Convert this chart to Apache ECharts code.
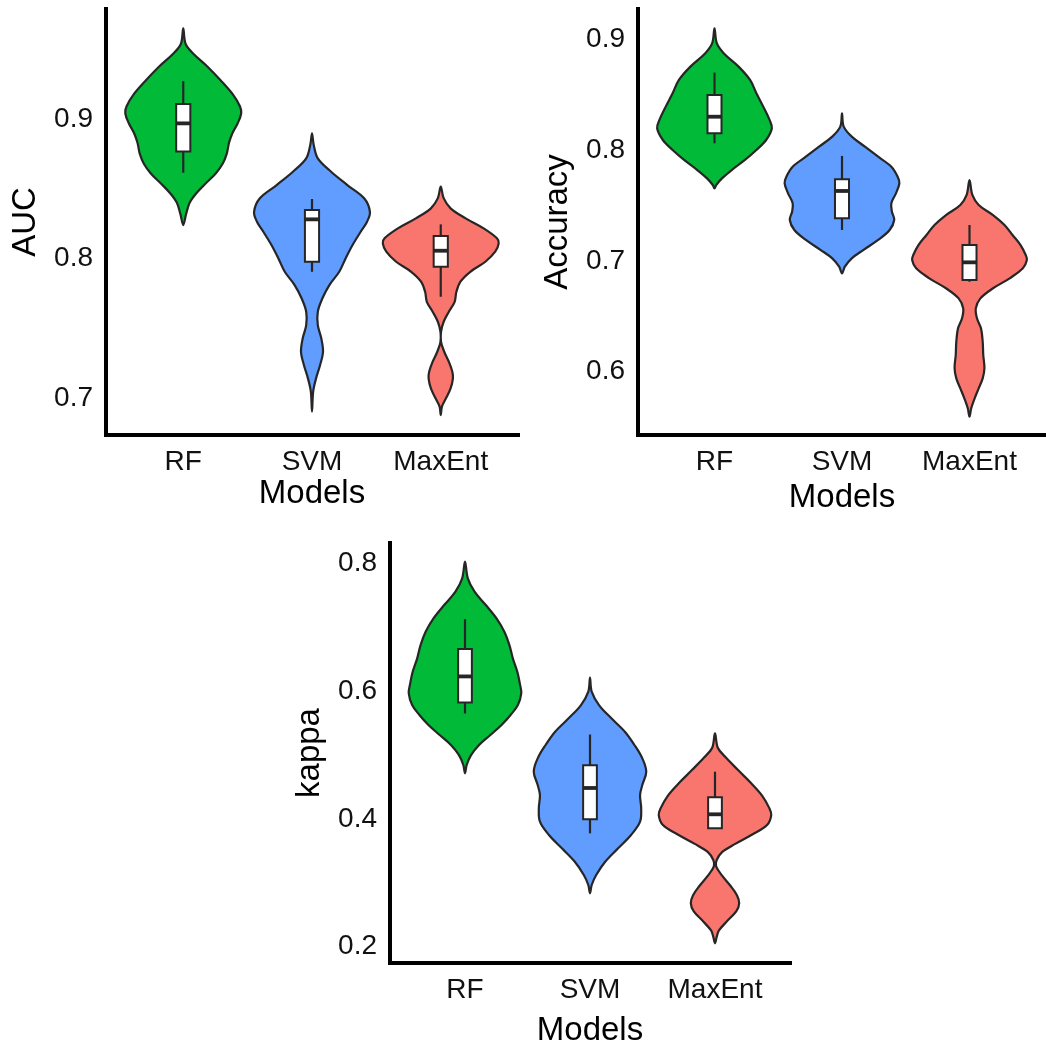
<!DOCTYPE html>
<html>
<head>
<meta charset="utf-8">
<script src="https://cdn.jsdelivr.net/npm/echarts@6/dist/echarts.min.js"></script>
<style>
html,body{margin:0;padding:0;background:#fff;}
#chart{width:1046px;height:1050px;}
</style>
</head>
<body>
<div id="chart"></div>
<script>
// ---------- DATA ----------
const categories = ['RF', 'SVM', 'MaxEnt'];
const aucTicks = [0.7, 0.8, 0.9];
const accTicks = [0.6, 0.7, 0.8, 0.9];
const kappaTicks = [0.2, 0.4, 0.6, 0.8];

// violin outlines: [value, relative density (max 1)]
const aucRF = [[0.965,0],[0.954,0.04],[0.947,0.17],[0.9375,0.42],[0.928,0.64],[0.918,0.85],[0.909,0.98],[0.904,1.0],[0.897,0.94],[0.890,0.85],[0.883,0.79],[0.875,0.75],[0.868,0.68],[0.861,0.56],[0.854,0.39],[0.847,0.23],[0.840,0.11],[0.832,0.05],[0.824,0]];
const aucSVM = [[0.8897,0],[0.8814,0.03],[0.8718,0.10],[0.8622,0.33],[0.8527,0.61],[0.8432,0.90],[0.8335,1.0],[0.8264,0.95],[0.8192,0.84],[0.8097,0.70],[0.8001,0.58],[0.7905,0.47],[0.781,0.30],[0.7715,0.18],[0.7619,0.10],[0.7523,0.10],[0.7428,0.16],[0.7332,0.19],[0.7237,0.14],[0.7141,0.07],[0.7046,0.02],[0.6903,0]];
const aucMaxEnt = [[0.8515,0],[0.8433,0.05],[0.836,0.17],[0.8288,0.43],[0.8216,0.74],[0.8145,0.97],[0.8109,1.0],[0.8049,0.94],[0.7977,0.77],[0.7905,0.51],[0.7834,0.34],[0.7762,0.27],[0.769,0.24],[0.7619,0.14],[0.7547,0.05],[0.7475,0.005],[0.7403,0.005],[0.7332,0.06],[0.726,0.14],[0.7189,0.20],[0.7141,0.21],[0.7069,0.17],[0.6998,0.09],[0.6938,0.02],[0.6878,0]];

const accRF = [[0.9099,0],[0.8964,0.04],[0.8874,0.16],[0.8753,0.42],[0.8633,0.62],[0.8513,0.73],[0.8392,0.85],[0.8272,0.96],[0.8197,1.0],[0.8091,0.90],[0.8001,0.73],[0.7911,0.53],[0.782,0.30],[0.7745,0.13],[0.7685,0.03],[0.7655,0]];
const accSVM = [[0.8332,0],[0.8211,0.03],[0.8121,0.17],[0.8031,0.40],[0.794,0.63],[0.785,0.86],[0.776,0.97],[0.77,1.0],[0.761,0.94],[0.752,0.86],[0.7444,0.87],[0.7369,0.91],[0.7279,0.83],[0.7189,0.63],[0.7098,0.37],[0.7023,0.17],[0.6948,0.05],[0.6888,0]];
const accMaxEnt = [[0.773,0],[0.7595,0.05],[0.7504,0.16],[0.7414,0.41],[0.7324,0.61],[0.7234,0.75],[0.7143,0.89],[0.7053,0.98],[0.7008,1.0],[0.6933,0.93],[0.6843,0.70],[0.6753,0.41],[0.6662,0.19],[0.6572,0.11],[0.6482,0.13],[0.6392,0.20],[0.6271,0.23],[0.6151,0.24],[0.6031,0.26],[0.594,0.23],[0.585,0.16],[0.576,0.09],[0.567,0.03],[0.5594,0]];

const kappaRF = [[0.8025,0],[0.7765,0.05],[0.7556,0.17],[0.7347,0.37],[0.7139,0.56],[0.693,0.70],[0.6721,0.79],[0.6513,0.85],[0.6304,0.93],[0.6095,0.98],[0.5966,1.0],[0.5783,0.94],[0.5626,0.81],[0.547,0.65],[0.5313,0.45],[0.5157,0.25],[0.5001,0.11],[0.4844,0.03],[0.4714,0]];
const kappaSVM = [[0.621,0],[0.5991,0.03],[0.5782,0.16],[0.5574,0.38],[0.5365,0.62],[0.5157,0.79],[0.4948,0.93],[0.4739,1.0],[0.4531,0.93],[0.4374,0.89],[0.4166,0.91],[0.3956,0.89],[0.3748,0.73],[0.354,0.50],[0.333,0.27],[0.3122,0.11],[0.2966,0.03],[0.2836,0]];
const kappaMaxEnt = [[0.534,0],[0.5114,0.05],[0.4964,0.19],[0.4764,0.41],[0.4562,0.64],[0.4362,0.84],[0.4161,0.97],[0.406,1.0],[0.3909,0.93],[0.3759,0.67],[0.3609,0.36],[0.3484,0.13],[0.3357,0.03],[0.3258,0.02],[0.3108,0.13],[0.2958,0.27],[0.2806,0.39],[0.2681,0.43],[0.2556,0.38],[0.2405,0.22],[0.2254,0.07],[0.2153,0.03],[0.2053,0]];

// box stats: [lower whisker, Q1, median, Q3, upper whisker]
const aucBox = [[0.8615,0.8767,0.8969,0.9108,0.9272],[0.7905,0.7977,0.8281,0.8348,0.8427],[0.7726,0.7941,0.8056,0.8161,0.8245]];
const accBox = [[0.8061,0.8152,0.8301,0.8497,0.8699],[0.7279,0.7384,0.7631,0.7736,0.7947],[0.6812,0.6828,0.6987,0.7143,0.7324]];
const kappaBox = [[0.565,0.582,0.623,0.666,0.7126],[0.3774,0.3996,0.4484,0.4838,0.5321],[0.3853,0.3853,0.4072,0.4338,0.4739]];

// ---------- STYLE / LAYOUT ----------
const fills = ['#00BA38', '#619CFF', '#F8766D'];
const outline = '#262626';
const FONT = '"Liberation Sans", Arial, sans-serif';
const panels = [
  {grid:{left:106, top:9, width:412, height:426}, ymin:0.6735, ymax:0.9789, ticks:aucTicks, name:'AUC', xGap:42, prof:[aucRF,aucSVM,aucMaxEnt], box:aucBox},
  {grid:{left:638, top:9, width:408, height:426}, ymin:0.5429, ymax:0.9273, ticks:accTicks, name:'Accuracy', xGap:46, prof:[accRF,accSVM,accMaxEnt], box:accBox},
  {grid:{left:390, top:543, width:400, height:420}, ymin:0.1745, ymax:0.8318, ticks:kappaTicks, name:'kappa', xGap:51, prof:[kappaRF,kappaSVM,kappaMaxEnt], box:kappaBox}
];

function makeRender(profiles, boxes) {
  return function (params, api) {
    const i = api.value(0);
    const prof = profiles[i - 1];
    const b = boxes[i - 1];
    const half = 0.45;
    const left = prof.map(p => api.coord([i - p[1] * half, p[0]]));
    const right = prof.slice(1, -1).map(p => api.coord([i + p[1] * half, p[0]])).reverse();
    const pts = left.concat(right);
    const bw = 0.055;
    const tl = api.coord([i - bw, b[3]]);
    const br = api.coord([i + bw, b[1]]);
    const wTop = api.coord([i, b[4]]);
    const wBot = api.coord([i, b[0]]);
    const mL = api.coord([i - bw, b[2]]);
    const mR = api.coord([i + bw, b[2]]);
    return {
      type: 'group',
      children: [
        {type:'polygon', shape:{points:pts, smooth:0.35}, style:{fill:fills[i-1], stroke:outline, lineWidth:2.2}},
        {type:'line', shape:{x1:wTop[0], y1:wTop[1], x2:wBot[0], y2:wBot[1]}, style:{stroke:outline, lineWidth:2.2}},
        {type:'rect', shape:{x:tl[0], y:tl[1], width:br[0]-tl[0], height:br[1]-tl[1]}, style:{fill:'#fff', stroke:outline, lineWidth:2}},
        {type:'line', shape:{x1:mL[0], y1:mL[1], x2:mR[0], y2:mR[1]}, style:{stroke:outline, lineWidth:3.8}}
      ]
    };
  };
}

const grid = [], xAxis = [], yAxis = [], series = [];
panels.forEach((p, k) => {
  grid.push(p.grid);
  xAxis.push({
    type:'value', gridIndex:k, min:0.4, max:3.6,
    name:'Models', nameLocation:'middle', nameGap:p.xGap,
    nameTextStyle:{fontFamily:FONT, fontSize:33, color:'#000'},
    axisLine:{show:true, onZero:false, lineStyle:{color:'#000', width:4, cap:'square'}},
    axisTick:{show:false}, splitLine:{show:false},
    axisLabel:{customValues:[1,2,3], formatter:v => categories[Math.round(v)-1] || '', fontFamily:FONT, fontSize:28, color:'#111', margin:13}
  });
  yAxis.push({
    type:'value', gridIndex:k, min:p.ymin, max:p.ymax,
    name:p.name, nameLocation:'middle', nameGap:64, nameRotate:90,
    nameTextStyle:{fontFamily:FONT, fontSize:33, color:'#000'},
    axisLine:{show:true, onZero:false, lineStyle:{color:'#000', width:4, cap:'square'}},
    axisTick:{show:false}, splitLine:{show:false},
    axisLabel:{customValues:p.ticks, formatter:v => v.toFixed(1), fontFamily:FONT, fontSize:28, color:'#111', margin:13}
  });
  series.push({
    type:'custom', xAxisIndex:k, yAxisIndex:k,
    renderItem: makeRender(p.prof, p.box),
    data: categories.map((c, j) => [j + 1, p.box[j][2]]),
    encode:{x:0, y:1}, silent:true, clip:false
  });
});

const chart = echarts.init(document.getElementById('chart'), null, {renderer:'canvas'});
chart.setOption({animation:false, backgroundColor:'#fff', grid, xAxis, yAxis, series});
</script>
</body>
</html>
